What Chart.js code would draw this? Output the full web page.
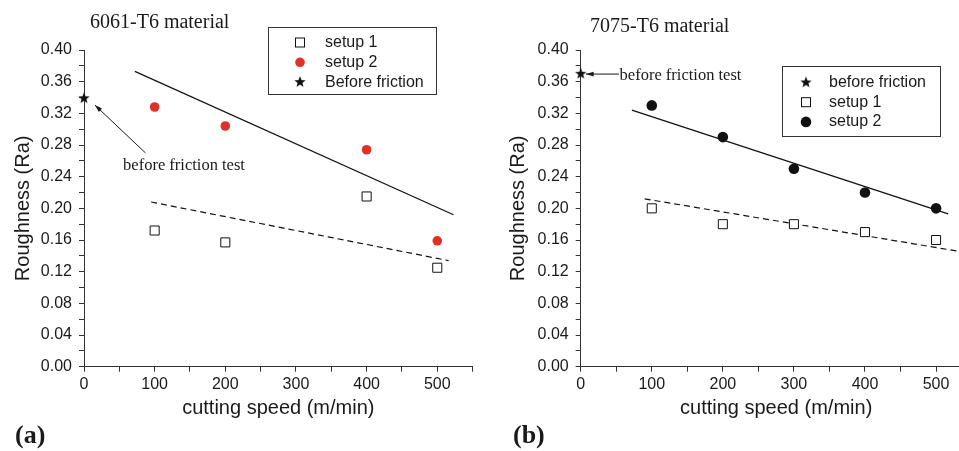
<!DOCTYPE html>
<html>
<head>
<meta charset="utf-8">
<script src="https://cdn.jsdelivr.net/npm/chart.js@4.4.0/dist/chart.umd.min.js"></script>
<style>
  html, body { margin: 0; padding: 0; background: #fff; overflow: hidden; }
  #wrap { position: relative; width: 959px; height: 451px; overflow: hidden; }
  #c1 { position: absolute; left: 0; top: 0; }
  #c2 { position: absolute; left: 479px; top: 0; }
</style>
</head>
<body>
<div id="wrap">
  <canvas id="c1" width="480" height="451"></canvas>
  <canvas id="c2" width="500" height="451"></canvas>
</div>
<script>
// (a) 6061-T6
const speedsA = [100, 200, 400, 500];
const setup1A = [0.172, 0.157, 0.215, 0.125];
const setup2A = [0.328, 0.304, 0.274, 0.159];
const beforeA = 0.339;
const fit1AX = [95, 516], fit1AY = [0.208, 0.134];
const fit2AX = [72, 523], fit2AY = [0.373, 0.192];

// (b) 7075-T6
const speedsB = [100, 200, 300, 400, 500];
const setup1B = [0.20, 0.18, 0.18, 0.17, 0.16];
const setup2B = [0.33, 0.29, 0.25, 0.22, 0.20];
const beforeB = 0.37;
const fit1BX = [90, 530], fit1BY = [0.212, 0.146];
const fit2BX = [72, 517], fit2BY = [0.324, 0.193];

const xLabels = [0, 100, 200, 300, 400, 500];

const SANS = '"Liberation Sans", Arial, sans-serif';
const SERIF = '"Liberation Serif", "Times New Roman", serif';
const INK = '#1a1a1a';

// filled five point star used as a point style
function makeStar(r) {
    const c = document.createElement('canvas');
    const s = Math.ceil(r * 2 + 2);
    c.width = s; c.height = s;
    const g = c.getContext('2d');
    g.fillStyle = '#111';
    g.beginPath();
    for (let i = 0; i < 10; i++) {
        const rr = i % 2 === 0 ? r : r * 0.42;
        const a = -Math.PI / 2 + i * Math.PI / 5;
        g.lineTo(s / 2 + rr * Math.cos(a), s / 2 + rr * Math.sin(a));
    }
    g.closePath();
    g.fill();
    return c;
}
const starImg = makeStar(6);

function pts(xs, ys) { return xs.map((x, i) => ({ x: x, y: ys[i] })); }

function drawMarker(ctx, kind, x, y) {
    ctx.save();
    if (kind.type === 'star') {
        ctx.drawImage(starImg, x - starImg.width / 2, y - starImg.height / 2);
    } else if (kind.type === 'square') {
        ctx.fillStyle = '#fff';
        ctx.strokeStyle = '#111';
        ctx.lineWidth = 1;
        ctx.fillRect(x - 4.5, y - 4.5, 9, 9);
        ctx.strokeRect(x - 4.5, y - 4.5, 9, 9);
    } else {
        ctx.fillStyle = kind.color;
        ctx.beginPath();
        ctx.arc(x, y, kind.r, 0, Math.PI * 2);
        ctx.fill();
    }
    ctx.restore();
}

const decorations = {
    id: 'decorations',
    afterDraw(chart, args, o) {
        const ctx = chart.ctx;
        const xs = chart.scales.x, ys = chart.scales.y;
        ctx.save();
        // panel title
        ctx.fillStyle = INK;
        ctx.font = '20px ' + SERIF;
        ctx.textBaseline = 'middle';
        ctx.textAlign = 'left';
        ctx.fillText(o.title, o.titleX, o.titleY);
        // panel letter
        ctx.font = 'bold 26px ' + SERIF;
        ctx.fillText(o.letter, o.letterX, 436);

        // legend box
        const L = o.legend;
        ctx.strokeStyle = '#333';
        ctx.lineWidth = 1;
        ctx.strokeRect(L.x + 0.5, L.y + 0.5, L.w, L.h);
        ctx.font = '16px ' + SANS;
        L.items.forEach((it, i) => {
            const yy = L.y + L.first + i * L.step;
            drawMarker(ctx, it.marker, L.x + L.mx, yy);
            ctx.fillStyle = INK;
            ctx.fillText(it.text, L.x + L.tx, yy);
        });

        // note with arrow
        const n = o.note;
        ctx.font = '16.5px ' + SERIF;
        ctx.fillStyle = INK;
        ctx.fillText('before friction test', xs.getPixelForValue(n.textX), ys.getPixelForValue(n.textY));
        const x0 = xs.getPixelForValue(n.from[0]), y0 = ys.getPixelForValue(n.from[1]);
        const x1 = xs.getPixelForValue(n.to[0]), y1 = ys.getPixelForValue(n.to[1]);
        ctx.strokeStyle = INK;
        ctx.beginPath();
        ctx.moveTo(x0, y0);
        ctx.lineTo(x1, y1);
        ctx.stroke();
        const ang = Math.atan2(y1 - y0, x1 - x0);
        ctx.beginPath();
        ctx.moveTo(x1, y1);
        ctx.lineTo(x1 - 8 * Math.cos(ang - 0.3), y1 - 8 * Math.sin(ang - 0.3));
        ctx.lineTo(x1 - 8 * Math.cos(ang + 0.3), y1 - 8 * Math.sin(ang + 0.3));
        ctx.closePath();
        ctx.fill();
        ctx.restore();
    }
};

function makeChart(id, cfg) {
    const datasets = [
        { label: 'setup 1', data: cfg.setup1, pointStyle: 'rect', pointRadius: 6.4,
          backgroundColor: '#fff', borderColor: '#111', borderWidth: 1, clip: false },
        { label: 'setup 2', data: cfg.setup2, pointStyle: 'circle', pointRadius: cfg.r2,
          backgroundColor: cfg.c2, borderColor: cfg.c2, borderWidth: 0, clip: false },
        { label: 'before friction', data: cfg.before, pointStyle: starImg, clip: false },
        { type: 'line', data: cfg.fit2, showLine: true, pointRadius: 0, borderColor: '#111',
          borderWidth: 1.2, fill: false },
        { type: 'line', data: cfg.fit1, showLine: true, pointRadius: 0, borderColor: '#111',
          borderWidth: 1.2, borderDash: [6, 4], fill: false }
    ];
    return new Chart(document.getElementById(id), {
        type: 'scatter',
        data: { datasets: datasets },
        plugins: [decorations],
        options: {
            responsive: false,
            animation: false,
            events: [],
            layout: { padding: cfg.padding },
            plugins: {
                legend: { display: false },
                tooltip: { enabled: false },
                decorations: cfg.deco
            },
            scales: {
                x: {
                    type: 'linear', min: 0, max: 550,
                    afterFit: s => { s.height = 60; s.paddingRight = 0; s.paddingLeft = 0; },
                    ticks: {
                        stepSize: 50, autoSkip: false, maxRotation: 0, padding: 3,
                        color: INK, font: { family: SANS, size: 16 },
                        callback: v => xLabels.includes(v) ? String(v) : ''
                    },
                    grid: { drawOnChartArea: false, tickLength: 5, color: '#333' },
                    border: { color: '#333', width: 1 },
                    title: { display: true, text: 'cutting speed (m/min)', color: INK,
                             font: { family: SANS, size: 20 }, padding: { top: 0, bottom: 6.7 } }
                },
                y: {
                    min: 0, max: 0.40,
                    afterFit: s => { s.width = cfg.yWidth; },
                    ticks: {
                        stepSize: 0.02, autoSkip: false, padding: 7,
                        color: INK, font: { family: SANS, size: 16 },
                        callback: (v, i) => i % 2 === 0 ? v.toFixed(2) : ''
                    },
                    grid: { drawOnChartArea: false, tickLength: 5, color: '#333' },
                    border: { color: '#333', width: 1 },
                    title: { display: true, text: 'Roughness (Ra)', color: INK,
                             font: { family: SANS, size: 20 }, padding: { top: cfg.yTitlePad, bottom: 0 } }
                }
            }
        }
    });
}

makeChart('c1', {
    setup1: pts(speedsA, setup1A),
    setup2: pts(speedsA, setup2A),
    before: [{ x: 0, y: beforeA }],
    fit1: pts(fit1AX, fit1AY),
    fit2: pts(fit2AX, fit2AY),
    r2: 4.8, c2: '#e0302a',
    yWidth: 84, yTitlePad: 11.5,
    padding: { left: 0, right: 2.5, top: 50, bottom: 24.3 },
    deco: {
        title: '6061-T6 material', titleX: 90, titleY: 23,
        letter: '(a)', letterX: 15,
        legend: {
            x: 268, y: 27, w: 168, h: 67, mx: 32, tx: 57, first: 15.5, step: 19.8,
            items: [
                { text: 'setup 1', marker: { type: 'square' } },
                { text: 'setup 2', marker: { type: 'circle', color: '#e0302a', r: 4.8 } },
                { text: 'Before friction', marker: { type: 'star' } }
            ]
        },
        note: { textX: 55.3, textY: 0.254, from: [87, 0.270], to: [15.4, 0.3305] }
    }
});

makeChart('c2', {
    setup1: pts(speedsB, setup1B),
    setup2: pts(speedsB, setup2B),
    before: [{ x: 0, y: beforeB }],
    fit1: pts(fit1BX, fit1BY),
    fit2: pts(fit2BX, fit2BY),
    r2: 5.3, c2: '#111',
    yWidth: 101.7, yTitlePad: 27,
    padding: { left: 0, right: 6.3, top: 50, bottom: 24.3 },
    deco: {
        title: '7075-T6 material', titleX: 111, titleY: 27,
        letter: '(b)', letterX: 34,
        legend: {
            x: 303, y: 66, w: 158, h: 70, mx: 24, tx: 47, first: 16.5, step: 19.7,
            items: [
                { text: 'before friction', marker: { type: 'star' } },
                { text: 'setup 1', marker: { type: 'square' } },
                { text: 'setup 2', marker: { type: 'circle', color: '#111', r: 5.3 } }
            ]
        },
        note: { textX: 54.7, textY: 0.367, from: [53.8, 0.3696], to: [7.4, 0.3696] }
    }
});
</script>
</body>
</html>
